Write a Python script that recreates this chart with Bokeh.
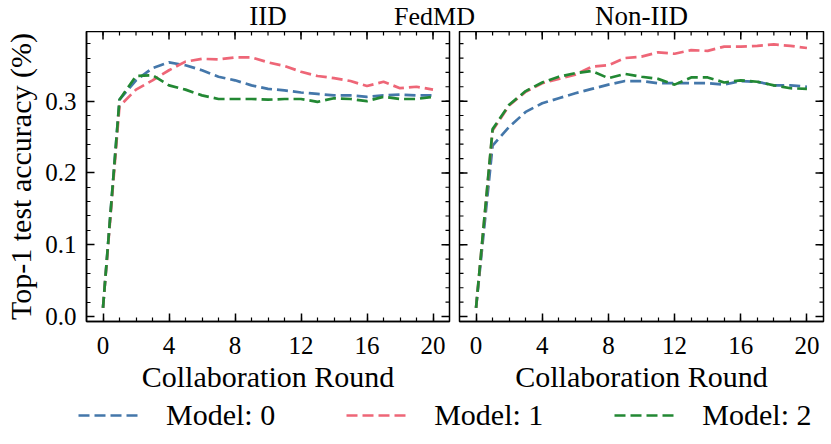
import math
from bokeh.plotting import figure
from bokeh.models import (Range1d, LinearAxis, FixedTicker, PrintfTickFormatter,
                          Label, Legend, LegendItem, ColumnDataSource)
from bokeh.layouts import column, row
from bokeh.embed import file_html
from bokeh.resources import INLINE

# ---------------- data ----------------
rounds = list(range(21))
series_names = ["Model: 0", "Model: 1", "Model: 2"]
colors = ["#4477AA", "#EE6677", "#228833"]

iid_m0 = [0.012, 0.302, 0.329, 0.346, 0.354, 0.350, 0.343, 0.334, 0.329, 0.322, 0.317,
          0.315, 0.312, 0.310, 0.308, 0.308, 0.306, 0.308, 0.309, 0.308, 0.308]
iid_m1 = [0.012, 0.293, 0.316, 0.329, 0.343, 0.355, 0.359, 0.358, 0.361, 0.361, 0.354,
          0.349, 0.341, 0.335, 0.332, 0.328, 0.321, 0.327, 0.318, 0.320, 0.316]
iid_m2 = [0.012, 0.302, 0.335, 0.336, 0.322, 0.316, 0.308, 0.303, 0.303, 0.303, 0.302,
          0.303, 0.303, 0.299, 0.304, 0.303, 0.300, 0.306, 0.303, 0.303, 0.306]

niid_m0 = [0.012, 0.238, 0.264, 0.285, 0.297, 0.304, 0.311, 0.317, 0.323, 0.328, 0.328,
           0.325, 0.325, 0.325, 0.325, 0.323, 0.328, 0.327, 0.322, 0.322, 0.320]
niid_m1 = [0.012, 0.259, 0.294, 0.313, 0.325, 0.331, 0.337, 0.348, 0.350, 0.360, 0.362,
           0.368, 0.366, 0.371, 0.370, 0.376, 0.376, 0.377, 0.379, 0.377, 0.374]
niid_m2 = [0.012, 0.261, 0.295, 0.314, 0.326, 0.334, 0.339, 0.342, 0.332, 0.338, 0.334,
           0.331, 0.323, 0.333, 0.333, 0.326, 0.329, 0.327, 0.322, 0.318, 0.317]

x_major = [0, 4, 8, 12, 16, 20]
x_minor = list(range(0, 21))
y_major = [0.0, 0.1, 0.2, 0.3]
y_minor = [0.0, 0.02, 0.04, 0.06, 0.08, 0.1, 0.12, 0.14, 0.16, 0.18, 0.2,
           0.22, 0.24, 0.26, 0.28, 0.3, 0.32, 0.34, 0.36, 0.38]

titles = ["IID", "Non-IID"]
suptitle = "FedMD"
xlabel = "Collaboration Round"
ylabel = "Top-1 test accuracy (%)"

X_START, X_END = -1, 21
Y_START, Y_END = -0.007, 0.397

FONT = "Liberation Serif"
TICK_FS = "25px"
LABEL_FS = "30px"
LINE_W = 2.7
DASH = "11 5"

HEAD_H = 31
FRAME_H = 290
LEFT_BORDER = 86
GAP_L = 5
GAP_R = 5
FW_LEFT = 363
FW_RIGHT = 364
RIGHT_BORDER = 8
BOTTOM = 76
TOTAL_W = LEFT_BORDER + FW_LEFT + GAP_L + GAP_R + FW_RIGHT + RIGHT_BORDER


def style_axis(ax, ticker):
    ax.ticker = ticker
    ax.major_tick_in = 8
    ax.major_tick_out = 0
    ax.minor_tick_in = 4
    ax.minor_tick_out = 0
    ax.major_tick_line_color = "black"
    ax.minor_tick_line_color = "black"
    ax.major_tick_line_width = 1.5
    ax.minor_tick_line_width = 1.2
    ax.axis_line_color = "black"
    ax.axis_line_width = 1.5
    ax.major_label_text_font = FONT
    ax.major_label_text_color = "black"
    ax.major_label_text_font_size = TICK_FS
    ax.axis_label_text_font = FONT
    ax.axis_label_text_font_size = LABEL_FS
    ax.axis_label_text_font_style = "normal"
    ax.axis_label_text_color = "black"


def inner_ticks(p, positions, fixed, length, angle, horizontal_edge):
    # tick marks drawn inward from a frame edge (mirrored ticks without labels)
    if horizontal_edge:
        src = ColumnDataSource(dict(x=positions, y=[fixed] * len(positions)))
    else:
        src = ColumnDataSource(dict(x=[fixed] * len(positions), y=positions))
    p.ray(x="x", y="y", source=src, length=length, length_units="screen",
          angle=angle, line_color="black", line_width=1.5 if length > 5 else 1.2)


def make_panel(series, frame_w, min_left, min_right, with_y_axis):
    p = figure(frame_width=frame_w, frame_height=FRAME_H, title=None,
               x_range=Range1d(X_START, X_END), y_range=Range1d(Y_START, Y_END),
               output_backend="svg", toolbar_location=None,
               x_axis_location=None, y_axis_location=None,
               min_border_left=min_left, min_border_right=min_right,
               min_border_top=0, min_border_bottom=BOTTOM)
    p.grid.visible = False
    p.outline_line_color = "black"
    p.outline_line_width = 1.5
    p.background_fill_color = "white"
    p.border_fill_color = "white"

    xt = FixedTicker(ticks=x_major, minor_ticks=x_minor)
    yt = FixedTicker(ticks=y_major, minor_ticks=y_minor)

    xb = LinearAxis(axis_label=xlabel)
    style_axis(xb, xt)
    xb.major_label_standoff = 15
    xb.axis_label_standoff = 3
    p.add_layout(xb, "below")

    if with_y_axis:
        yl = LinearAxis(formatter=PrintfTickFormatter(format="%.1f"), axis_label=ylabel)
        style_axis(yl, yt)
        yl.major_label_standoff = 10
        yl.axis_label_standoff = 5
        p.add_layout(yl, "left")
    else:
        inner_ticks(p, y_major, X_START, 8, 0.0, False)
        inner_ticks(p, y_minor, X_START, 4, 0.0, False)

    # mirrored ticks: top and right edges
    inner_ticks(p, x_major, Y_END, 8, -math.pi / 2, True)
    inner_ticks(p, x_minor, Y_END, 4, -math.pi / 2, True)
    inner_ticks(p, y_major, X_END, 8, math.pi, False)
    inner_ticks(p, y_minor, X_END, 4, math.pi, False)

    for ys, c in zip(series, colors):
        p.line(rounds, ys, line_color=c, line_width=LINE_W, line_dash=DASH)
    return p


left = make_panel([iid_m0, iid_m1, iid_m2], FW_LEFT, LEFT_BORDER, GAP_L, True)
right = make_panel([niid_m0, niid_m1, niid_m2], FW_RIGHT, GAP_R, RIGHT_BORDER, False)

# ---------------- header with titles ----------------
header = figure(width=TOTAL_W, height=HEAD_H, title=None, x_range=Range1d(0, TOTAL_W),
                y_range=Range1d(0, HEAD_H), output_backend="svg",
                toolbar_location=None, x_axis_location=None, y_axis_location=None,
                min_border=0, min_border_left=0, min_border_right=0,
                min_border_top=0, min_border_bottom=0)
header.grid.visible = False
header.outline_line_color = None
header.border_fill_color = "white"
title_pos = [LEFT_BORDER + FW_LEFT / 2,
             LEFT_BORDER + FW_LEFT + GAP_L + GAP_R + FW_RIGHT / 2]
for t, xpos in zip(titles, title_pos):
    header.add_layout(Label(x=xpos, y=16.0, text=t, text_align="center",
                            text_baseline="alphabetic", text_font=FONT,
                            text_font_size="27px", text_color="black"))
header.add_layout(Label(x=434, y=15.5, text=suptitle, text_align="center",
                        text_baseline="alphabetic", text_font=FONT,
                        text_font_size="26px", text_color="black"))

# ---------------- legend strip ----------------
leg_fig = figure(width=TOTAL_W, height=35, title=None,
                 x_range=Range1d(X_START, X_END), y_range=Range1d(Y_START, Y_END),
                 output_backend="svg", toolbar_location=None,
                 x_axis_location=None, y_axis_location=None,
                 min_border=0, min_border_left=0, min_border_right=0,
                 min_border_top=0, min_border_bottom=0)
leg_fig.grid.visible = False
leg_fig.outline_line_color = None
items = []
for name, ys, c in zip(series_names, [iid_m0, iid_m1, iid_m2], colors):
    r = leg_fig.line(rounds, ys, line_color=c, line_width=LINE_W, line_dash=DASH,
                     visible=False)
    items.append(LegendItem(label=name, renderers=[r]))
legend = Legend(items=items, orientation="horizontal", location="left",
                glyph_width=64, glyph_height=20, label_standoff=24, spacing=71,
                padding=0, margin=78, border_line_alpha=0, background_fill_alpha=0,
                inactive_fill_alpha=0,
                label_text_font=FONT, label_text_font_size="30px",
                label_text_color="black")
leg_fig.add_layout(legend)

layout = column(header, row(left, right, spacing=0), leg_fig, spacing=0)

open("out.html", "w").write(file_html(layout, INLINE))
